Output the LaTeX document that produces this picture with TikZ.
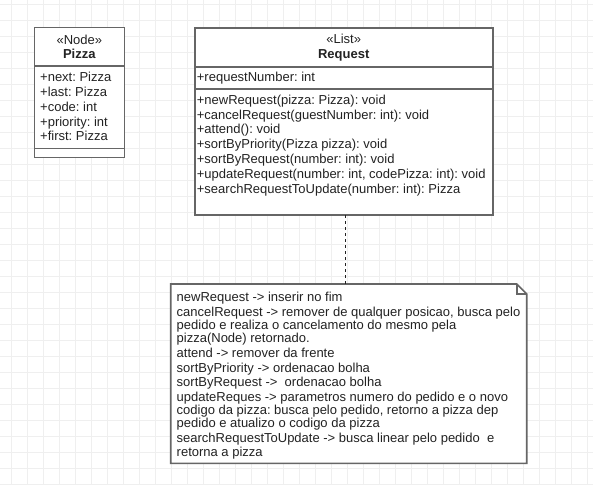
\documentclass[tikz,border=0pt]{standalone}
\usepackage{fontspec}
\setmainfont{Liberation Sans}
\frenchspacing
\definecolor{gridc}{HTML}{EFEFEF}
\definecolor{linec}{HTML}{666666}
\definecolor{txtc}{HTML}{222222}
\begin{document}
\frenchspacing
\begin{tikzpicture}[x=1pt,y=-1pt,
  umlbox/.style={draw=linec, line width=1.6pt, fill=white, inner sep=0pt, outer sep=0pt, anchor=north west},
  txt/.style={anchor=base west, inner sep=0pt, text=txtc, font=\fontsize{13}{15}\selectfont},
  ctxt/.style={anchor=base, inner sep=0pt, text=txtc, font=\fontsize{13}{15}\selectfont},
  sepline/.style={draw=linec, line width=1.6pt},
  connector/.style={draw=txtc, line width=1pt, dash pattern=on 3pt off 3pt}]
\useasboundingbox (0,0) rectangle (593,485);
\fill[white] (0,0) rectangle (593,485);
% grid
\foreach \k in {0,...,36} {\draw[gridc, line width=1pt] ({11.3+16*\k},0) -- ({11.3+16*\k},485);}
\foreach \k in {0,...,30} {\draw[gridc, line width=1pt] (0,{4+16*\k}) -- (593,{4+16*\k});}

% Pizza class
\node[umlbox, minimum width=90pt, minimum height=130pt] (pizza) at (34.3,27.3) {};
\draw[sepline] (34.3,66) -- (124.3,66);
\draw[sepline] (34.3,148.3) -- (124.3,148.3);
\node[ctxt] (pizzast) at (79.3,44.5) {«Node»};
\node[ctxt, font=\fontsize{13}{15}\selectfont\bfseries] (pizzaname) at (79.3,58) {Pizza};
\node[txt] (pa1) at (40,81.6) {+next: Pizza};
\node[txt] (pa2) at (40,96.4) {+last: Pizza};
\node[txt] (pa3) at (40,111.2) {+code: int};
\node[txt] (pa4) at (40,126) {+priority: int};
\node[txt] (pa5) at (40,140.8) {+first: Pizza};

% Request class
\node[umlbox, minimum width=298pt, minimum height=187pt] (request) at (194.7,28) {};
\draw[sepline] (194.7,66.7) -- (492.7,66.7);
\draw[sepline] (194.7,89) -- (492.7,89);
\node[ctxt] (reqst) at (343.7,43.8) {«List»};
\node[ctxt, font=\fontsize{13}{15}\selectfont\bfseries] (reqname) at (343.7,58) {Request};
\node[txt] (ra1) at (196.7,81) {+requestNumber: int};
\node[txt] (rm1) at (196.7,104.3) {+newRequest(pizza: Pizza): void};
\node[txt] (rm2) at (196.7,119.1) {+cancelRequest(guestNumber: int): void};
\node[txt] (rm3) at (196.7,133.9) {+attend(): void};
\node[txt] (rm4) at (196.7,148.7) {+sortByPriority(Pizza pizza): void};
\node[txt] (rm5) at (196.7,163.5) {+sortByRequest(number: int): void};
\node[txt] (rm6) at (196.7,178.3) {+updateRequest(number: int, codePizza: int): void};
\node[txt] (rm7) at (196.7,193.1) {+searchRequestToUpdate(number: int): Pizza};

% Note
\node[inner sep=0pt, outer sep=0pt, minimum width=356pt, minimum height=179.3pt, anchor=north west] (note) at (170.7,284) {};
\draw[sepline, fill=white] (note.north west) -- ([xshift=-10pt]note.north east) -- ([yshift=-10pt]note.north east) -- (note.south east) -- (note.south west) -- cycle;
\draw[sepline] ([xshift=-10pt]note.north east) -- ([xshift=-10pt,yshift=-10pt]note.north east) -- ([yshift=-10pt]note.north east);
\node[txt] (n1) at (176.5,301) {newRequest -> inserir no fim};
\node[txt] (n2) at (176.5,316.4) {cancelRequest -> remover de qualquer posicao, busca pelo};
\node[txt] (n3) at (176.5,329.2) {pedido e realiza o cancelamento do mesmo pela};
\node[txt] (n4) at (176.5,342) {pizza(Node) retornado.};
\node[txt] (n5) at (176.5,357) {attend -> remover da frente};
\node[txt] (n6) at (176.5,372) {sortByPriority -> ordenacao bolha};
\node[txt] (n7) at (176.5,386.6) {sortByRequest ->\ \ ordenacao bolha};
\node[txt] (n8) at (176.5,401.4) {updateReques -> parametros numero do pedido e o novo};
\node[txt] (n9) at (176.5,414.2) {codigo da pizza: busca pelo pedido, retorno a pizza dep};
\node[txt] (n10) at (176.5,427.6) {pedido e atualizo o codigo da pizza};
\node[txt] (n11) at (176.5,442.8) {searchRequestToUpdate -> busca linear pelo pedido\ \ e};
\node[txt] (n12) at (176.5,456) {retorna a pizza};

% connector
\draw[connector] ([xshift=1.9pt]request.south) coordinate (ca) -- (ca |- note.north);
\end{tikzpicture}
\end{document}
